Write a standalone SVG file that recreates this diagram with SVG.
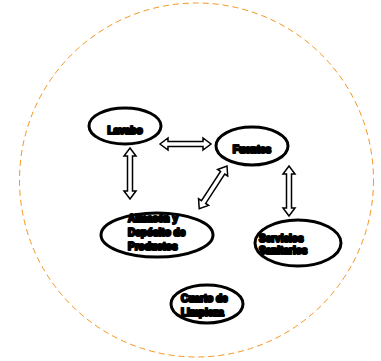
<svg xmlns="http://www.w3.org/2000/svg" width="381" height="361" viewBox="0 0 381 361">
<style>
.bg{fill:#fff}
.ring{fill:none;stroke:#f7941d;stroke-width:1;stroke-dasharray:6 4}
.node{fill:#fff;stroke:#000;stroke-width:3}
.lbl{font-family:"Liberation Sans",Arial,sans-serif;font-weight:bold;font-size:10px;fill:#000;stroke:#000;stroke-width:2.2;stroke-linejoin:round}
.arr{fill:#fff;stroke:#000;stroke-width:1.5;stroke-linejoin:miter}
</style>
<rect class="bg" width="381" height="361"/>
<circle class="ring" cx="196.5" cy="180" r="177"/>
<g id="n-lavabo">
<ellipse class="node" cx="125" cy="126" rx="36" ry="18"/>
<text class="lbl" x="125" y="134" text-anchor="middle">Lavabo</text>
</g>
<g id="n-fuentes">
<ellipse class="node" cx="252" cy="146" rx="36" ry="19"/>
<text class="lbl" x="252" y="153" text-anchor="middle">Fuentes</text>
</g>
<g id="n-almacen">
<ellipse class="node" cx="157" cy="235" rx="56" ry="22"/>
<text class="lbl" x="128" y="222">Almacén y</text>
<text class="lbl" x="128" y="236">Depósito de</text>
<text class="lbl" x="128" y="250">Productos</text>
</g>
<g id="n-servicios">
<ellipse class="node" cx="298" cy="243" rx="43" ry="23"/>
<text class="lbl" x="259" y="242">Servicios</text>
<text class="lbl" x="259" y="254">Sanitarios</text>
</g>
<g id="n-cuarto">
<ellipse class="node" cx="207" cy="304" rx="36" ry="19"/>
<text class="lbl" x="181" y="302">Cuarto de</text>
<text class="lbl" x="181" y="316">Limpieza</text>
</g>
<g id="connectors">
<polygon class="arr" transform="translate(160,144)" points="0,0 8,-6 8,-2.5 43,-2.5 43,-6 51,0 43,6 43,2.5 8,2.5 8,6"/>
<polygon class="arr" transform="translate(130,148) rotate(90)" points="0,0 8,-6 8,-2.5 43,-2.5 43,-6 51,0 43,6 43,2.5 8,2.5 8,6"/>
<polygon class="arr" transform="translate(227,166) rotate(123)" points="0,0 8,-6 8,-2.5 43,-2.5 43,-6 51,0 43,6 43,2.5 8,2.5 8,6"/>
<polygon class="arr" transform="translate(289,166) rotate(90)" points="0,0 8,-6 8,-2.5 42,-2.5 42,-6 50,0 42,6 42,2.5 8,2.5 8,6"/>
</g>
</svg>
